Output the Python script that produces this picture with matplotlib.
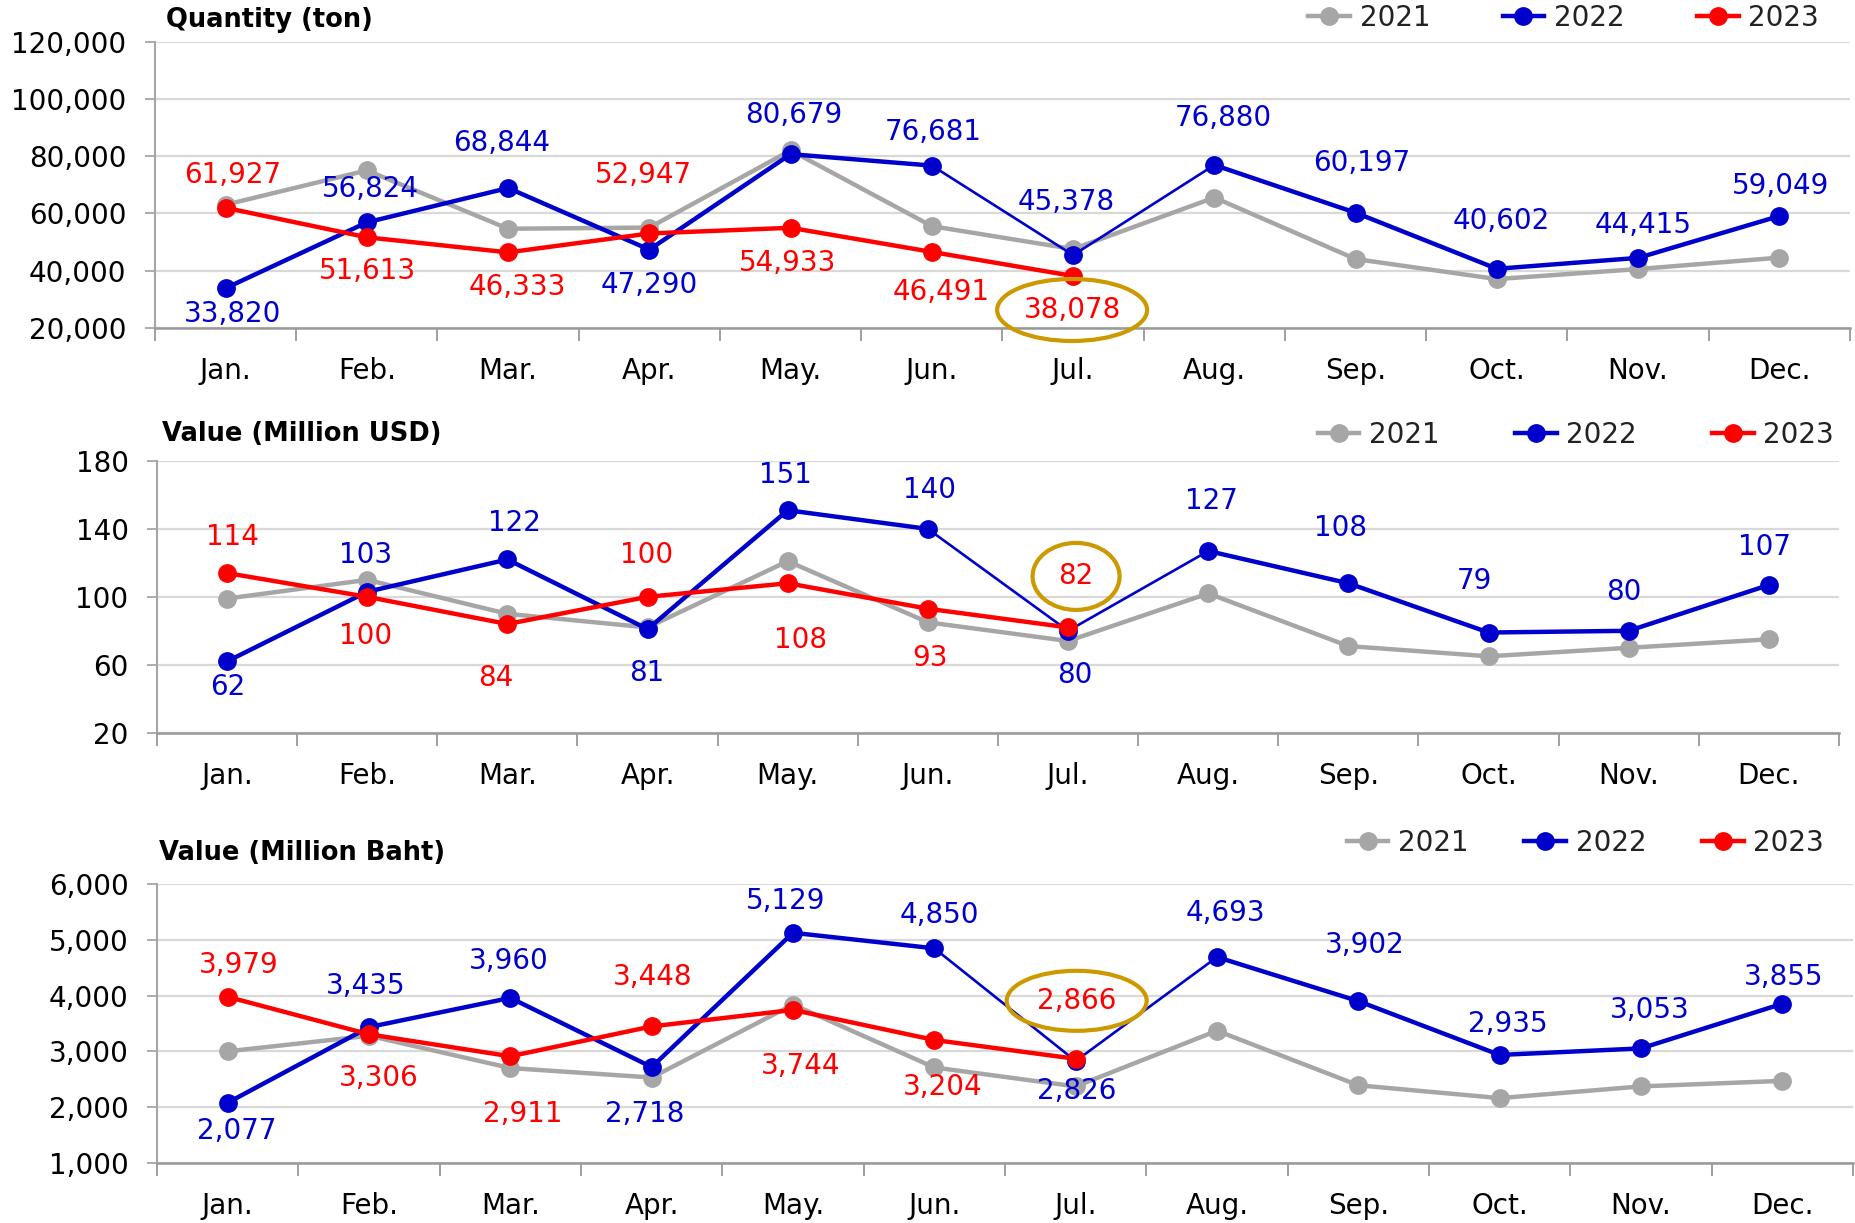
import matplotlib
matplotlib.use("Agg")
import matplotlib.pyplot as plt
import matplotlib.transforms as mtransforms
from matplotlib.patches import Ellipse
from matplotlib.lines import Line2D
from matplotlib.ticker import FuncFormatter
import numpy as np

plt.rcParams['font.family'] = ['DejaVu Sans']

# ---------------- data ----------------
months = ['Jan.', 'Feb.', 'Mar.', 'Apr.', 'May.', 'Jun.', 'Jul.', 'Aug.', 'Sep.', 'Oct.', 'Nov.', 'Dec.']
years = ['2021', '2022', '2023']

qty_2021 = [63000, 75000, 54600, 55000, 82000, 55500, 47500, 65500, 44000, 37000, 40500, 44500]
qty_2022 = [33820, 56824, 68844, 47290, 80679, 76681, 45378, 76880, 60197, 40602, 44415, 59049]
qty_2023 = [61927, 51613, 46333, 52947, 54933, 46491, 38078]

usd_2021 = [99, 110, 90, 82, 121, 85, 74, 102, 71, 65, 70, 75]
usd_2022 = [62, 103, 122, 81, 151, 140, 80, 127, 108, 79, 80, 107]
usd_2023 = [114, 100, 84, 100, 108, 93, 82]

baht_2021 = [3000, 3280, 2700, 2530, 3840, 2710, 2370, 3370, 2390, 2160, 2370, 2470]
baht_2022 = [2077, 3435, 3960, 2718, 5129, 4850, 2826, 4693, 3902, 2935, 3053, 3855]
baht_2023 = [3979, 3306, 2911, 3448, 3744, 3204, 2866]

titles = ['Quantity (ton)', 'Value (Million USD)', 'Value (Million Baht)']
yticks_list = [[20000, 40000, 60000, 80000, 100000, 120000],
               [20, 60, 100, 140, 180],
               [1000, 2000, 3000, 4000, 5000, 6000]]

# ---------------- styles / layout ----------------
C21, C22, C23 = '#A6A6A6', '#0000CC', '#FF0000'
GOLD = '#CC9900'
W, H = 1856, 1223
FS = 20

panels = [
    dict(s21=qty_2021, s22=qty_2022, s23=qty_2023, yt=yticks_list[0], title=titles[0],
         rect=(155, 41.7, 1850, 327.7), title_xy=(166, 20), leg_xy=(1819, 18), colsp=2.6,
         off22=[(7, -26), (3, 33), (-6, 45), (0, -35), (3, 39), (1, 34), (-7, 53), (9, 47), (6, 50), (4, 48), (5, 33), (1, 30)],
         off23=[(7, 33), (1, -34), (9, -35), (-6, 58), (-3, -35), (9, -40), (-1, -34)],
         ell=(150, 62)),
    dict(s21=usd_2021, s22=usd_2022, s23=usd_2023, yt=yticks_list[1], title=titles[1],
         rect=(157, 461, 1839, 732.7), title_xy=(162, 434), leg_xy=(1834, 435), colsp=2.7,
         off22=[(1, -26), (-2, 37), (7, 36), (-1, -44), (-2, 35), (2, 39), (7, -44), (3, 50), (-8, 55), (-14, 52), (-5, 39), (-4, 38)],
         off23=[(5, 36), (-2, -39), (-12, -54), (-1, 42), (13, -57), (2, -49), (8, 51)],
         ell=(87, 67)),
    dict(s21=baht_2021, s22=baht_2022, s23=baht_2023, yt=yticks_list[2], title=titles[2],
         rect=(157, 884.3, 1853, 1162.7), title_xy=(159, 853), leg_xy=(1824, 843), colsp=2.0,
         off22=[(9, -28), (-3, 41), (-2, 37), (-7, -47), (-7, 32), (5, 33), (1, -30), (8, 44), (6, 56), (8, 31), (9, 38), (1, 27)],
         off23=[(11, 32), (10, -44), (12, -58), (1, 49), (8, -56), (8, -47), (1, 58)],
         ell=(140, 60)),
]

fig = plt.figure(figsize=(W / 100, H / 100), dpi=100)
fig.patch.set_facecolor('white')

fmt = FuncFormatter(lambda v, p: f'{int(round(v)):,}')

for P in panels:
    x0, y0, x1, y1 = P['rect']
    ax = fig.add_axes([x0 / W, 1 - y1 / H, (x1 - x0) / W, (y1 - y0) / H])
    yt = P['yt']
    ax.set_ylim(yt[0], yt[-1])
    ax.set_xlim(-0.5, 11.5)
    ax.set_yticks(yt)
    ax.yaxis.set_major_formatter(fmt)
    ax.grid(axis='y', color='#D9D9D9', lw=1.6, zorder=0)
    ax.set_axisbelow(True)
    for sp in ['top', 'right']:
        ax.spines[sp].set_visible(False)
    ax.spines['left'].set_color('#A6A6A6')
    ax.spines['bottom'].set_color('#999999')
    ax.spines['left'].set_linewidth(1.5)
    ax.spines['bottom'].set_linewidth(1.8)

    ax.set_xticks(np.arange(-0.5, 12, 1))
    ax.set_xticklabels([])
    ax.set_xticks(np.arange(12), minor=True)
    ax.set_xticklabels(months, minor=True)
    ax.tick_params(axis='x', which='major', length=9, width=1.3, color='#999999', direction='out')
    ax.tick_params(axis='x', which='minor', length=0, pad=21, labelsize=FS)
    ax.tick_params(axis='y', length=7, width=1.3, color='#A6A6A6', pad=13.5, labelsize=FS)

    x = np.arange(12)
    s21, s22, s23 = P['s21'], P['s22'], P['s23']
    x23 = np.arange(len(s23))

    ax.plot(x, s21, color=C21, lw=3.2, marker='o', ms=12.5, zorder=3, clip_on=False)
    ax.plot(x[:6], s22[:6], color=C22, lw=3.2, zorder=4, clip_on=False)
    ax.plot(x[5:8], s22[5:8], color=C22, lw=1.9, zorder=4, clip_on=False)
    ax.plot(x[7:], s22[7:], color=C22, lw=3.2, zorder=4, clip_on=False)
    ax.plot(x, s22, color=C22, lw=0, marker='o', ms=12.5, zorder=4, clip_on=False)
    ax.plot(x23, s23, color=C23, lw=3.2, marker='o', ms=12.5, zorder=5, clip_on=False)

    for i, v in enumerate(s22):
        dx, dy = P['off22'][i]
        ax.annotate(f'{v:,}', (i, v), xytext=(dx * 0.72, dy * 0.72), textcoords='offset points',
                    ha='center', va='center', color=C22, fontsize=FS, zorder=6, annotation_clip=False)
    for i, v in enumerate(s23):
        dx, dy = P['off23'][i]
        ax.annotate(f'{v:,}', (i, v), xytext=(dx * 0.72, dy * 0.72), textcoords='offset points',
                    ha='center', va='center', color=C23, fontsize=FS, zorder=6, annotation_clip=False)

    # highlight ellipse around latest 2023 label
    last = len(s23) - 1
    dx, dy = P['off23'][last]
    ew, eh = P['ell']
    trans = fig.dpi_scale_trans + mtransforms.ScaledTranslation(last, s23[last], ax.transData)
    e = Ellipse((dx / 100, dy / 100), ew / 100, eh / 100, transform=trans,
                fill=False, edgecolor=GOLD, lw=3, zorder=7)
    fig.add_artist(e)

    tx, ty = P['title_xy']
    fig.text(tx / W, 1 - ty / H, P['title'], fontsize=18.5, fontweight='bold',
             ha='left', va='center', color='black')

    handles = [Line2D([0], [0], color=c, lw=3.2, marker='o', ms=12.5) for c in (C21, C22, C23)]
    lx, ly = P['leg_xy']
    fig.legend(handles, years, loc='center right', bbox_to_anchor=(lx / W, 1 - ly / H),
               ncol=3, frameon=False, fontsize=FS, handlelength=1.5, handletextpad=0.35,
               columnspacing=P['colsp'], borderpad=0, borderaxespad=0, labelcolor='#222222')

fig.savefig('out.png', dpi=100, facecolor='white')
